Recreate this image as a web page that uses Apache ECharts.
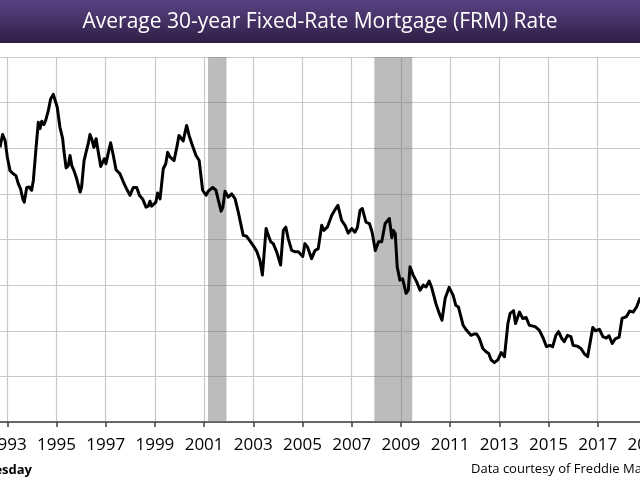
<!DOCTYPE html>
<html>
<head>
<meta charset="utf-8">
<script src="https://cdn.jsdelivr.net/npm/echarts@6/dist/echarts.min.js"></script>
<style>html,body{margin:0;padding:0;background:#fff}#c{width:640px;height:480px}</style>
</head>
<body>
<div id="c"></div>
<script>
var titleText = 'Average 30-year Fixed-Rate Mortgage (FRM) Rate';
var yearTicks = [1991,1993,1995,1997,1999,2001,2003,2005,2007,2009,2011,2013,2015,2017,2019,2021];
var recessions = [[2001.16, 2001.91], [2007.92, 2009.46]];
var years = [
1992.70,1992.81,1992.91,1993.00,1993.11,1993.24,1993.35,1993.45,1993.54,1993.63,1993.69,1993.79,1993.89,1993.99,
1994.06,1994.17,1994.26,1994.33,1994.40,1994.49,1994.56,1994.67,1994.76,1994.87,1994.95,
1995.03,1995.14,1995.25,1995.30,1995.39,1995.48,1995.55,1995.62,1995.71,1995.82,1995.96,
1996.02,1996.12,1996.20,1996.29,1996.36,1996.44,1996.52,1996.61,1996.70,1996.80,1996.88,1996.94,
1997.01,1997.11,1997.20,1997.31,1997.42,1997.58,1997.72,1997.85,1997.99,
1998.12,1998.26,1998.37,1998.50,1998.64,1998.73,1998.80,1998.87,
1999.04,1999.11,1999.21,1999.34,1999.44,1999.52,1999.61,1999.68,1999.78,1999.89,1999.98,
2000.06,2000.15,2000.29,2000.39,2000.50,2000.67,2000.80,2000.94,
2001.08,2001.17,2001.35,2001.48,2001.58,2001.69,2001.76,2001.85,2001.98,
2002.12,2002.26,2002.39,2002.59,2002.73,2002.89,
2003.03,2003.14,2003.20,2003.27,2003.37,2003.52,2003.61,2003.71,2003.81,2003.95,
2004.11,2004.22,2004.32,2004.42,2004.56,2004.70,2004.83,
2005.01,2005.10,2005.20,2005.37,2005.51,2005.64,2005.78,2005.87,
2006.01,2006.19,2006.32,2006.44,2006.59,2006.73,2006.86,
2007.00,2007.13,2007.23,2007.34,2007.43,2007.58,2007.72,2007.83,2007.96,
2008.09,2008.22,2008.36,2008.53,2008.63,2008.69,2008.77,2008.85,2008.96,
2009.07,2009.21,2009.30,2009.37,2009.50,2009.64,2009.78,2009.91,
2010.02,2010.15,2010.26,2010.42,2010.56,2010.67,2010.80,2010.96,
2011.12,2011.23,2011.34,2011.53,2011.67,2011.85,2011.99,
2012.08,2012.19,2012.33,2012.46,2012.57,2012.67,2012.80,2012.94,
2013.08,2013.21,2013.35,2013.44,2013.58,2013.66,2013.82,2013.95,
2014.09,2014.22,2014.46,2014.63,2014.79,2014.92,
2015.06,2015.17,2015.30,2015.41,2015.54,2015.64,2015.77,2015.91,
2016.00,2016.18,2016.32,2016.45,2016.59,2016.66,2016.80,2016.91,
2017.07,2017.21,2017.35,2017.46,2017.59,2017.71,2017.87,2017.99,
2018.17,2018.30,2018.44,2018.58,2018.73
];
var rates = [
8.02,8.30,8.17,7.81,7.51,7.44,7.40,7.22,7.11,6.89,6.82,7.14,7.15,7.08,
7.30,8.02,8.57,8.43,8.59,8.52,8.61,8.83,9.08,9.18,9.16,
8.90,8.46,8.21,7.95,7.57,7.62,7.84,7.62,7.51,7.33,7.04,
7.15,7.73,7.91,8.10,8.30,8.19,8.02,8.21,7.91,7.60,7.59,7.77,
7.66,7.91,8.12,7.84,7.53,7.44,7.26,7.11,6.97,
7.14,7.14,6.97,6.89,6.71,6.73,6.84,6.73,
6.82,7.02,6.89,7.55,7.66,7.91,7.81,7.84,7.73,8.02,8.28,
8.32,8.16,8.50,8.28,8.10,7.84,7.73,7.08,
6.97,7.06,7.14,7.08,6.86,6.62,6.70,7.06,6.93,
7.00,6.89,6.60,6.09,6.07,5.95,
5.84,5.74,5.76,5.54,5.22,6.24,6.09,5.95,5.91,5.73,
5.44,6.20,6.27,6.02,5.76,5.73,5.73,
5.63,5.91,5.84,5.58,5.76,5.80,6.31,6.20,
6.27,6.53,6.65,6.75,6.42,6.31,6.14,
6.24,6.16,6.26,6.64,6.68,6.38,6.35,6.16,5.76,
5.95,5.95,6.35,6.46,6.04,6.20,6.13,5.40,5.11,
5.14,4.82,4.89,5.40,5.22,5.07,4.89,5.00,
4.96,5.09,4.93,4.60,4.38,4.23,4.71,4.95,
4.78,4.56,4.52,4.12,4.01,3.90,3.93,
3.93,3.83,3.61,3.54,3.50,3.36,3.30,3.36,
3.52,3.43,4.16,4.38,4.44,4.16,4.41,4.27,
4.29,4.12,4.09,4.01,3.83,3.65,
3.68,3.65,3.90,3.98,3.83,3.76,3.90,3.87,
3.68,3.66,3.61,3.50,3.43,3.42,4.07,4.00,
4.03,3.87,3.84,3.89,3.72,3.82,3.86,4.27,
4.31,4.43,4.41,4.52,4.73
];
var noteLeft = 'Wednesday';
var noteRight = 'Data courtesy of Freddie Mac';

var data = years.map(function (y, i) { return [y, rates[i]]; });
var chart = echarts.init(document.getElementById('c'));
var FONT = '"Open Sans", sans-serif';
chart.setOption({
  animation: false,
  backgroundColor: '#ffffff',
  grid: { left: -41.9, right: -56.1, top: 57, bottom: 58, containLabel: false, outerBoundsMode: 'none' },
  xAxis: {
    type: 'value', min: yearTicks[0], max: yearTicks[yearTicks.length - 1], interval: 2,
    axisLine: { show: true, onZero: false, lineStyle: { color: '#404040', width: 1.5 } },
    axisTick: { show: true, length: 5, lineStyle: { color: '#404040', width: 1.5 } },
    axisLabel: { color: '#000', fontFamily: FONT, fontSize: 17, margin: 15, hideOverlap: false, formatter: function (v) { return String(v); } },
    splitLine: { show: true, lineStyle: { color: '#c8c8c8', width: 1.2 } }
  },
  yAxis: {
    type: 'value', min: 2, max: 10, interval: 1,
    axisLine: { show: false }, axisTick: { show: false }, axisLabel: { show: false },
    splitLine: { show: true, lineStyle: { color: '#c8c8c8', width: 1.2 } }
  },
  series: [{
    type: 'line', data: data, showSymbol: false, symbol: 'none',
    lineStyle: { color: '#000', width: 3, join: 'round' },
    markArea: {
      silent: true,
      itemStyle: { color: 'rgba(115,115,115,0.48)' },
      data: recessions.map(function (r) { return [{ xAxis: r[0] }, { xAxis: r[1] }]; })
    },
    z: 3
  }],
  graphic: [
    { type: 'rect', shape: { x: 0, y: 0, width: 640, height: 43 }, z: 10,
      style: { fill: new echarts.graphic.LinearGradient(0, 0, 0, 1, [
        { offset: 0, color: '#5a4282' }, { offset: 1, color: '#2f1e45' }]) } },
    { type: 'text', x: 320, y: 22, z: 11,
      style: { text: titleText, fill: '#ffffff', font: '21px ' + FONT, textAlign: 'center', textVerticalAlign: 'middle' } },
    { type: 'text', x: 32, y: 470, z: 11,
      style: { text: noteLeft, fill: '#000', font: 'bold 13px ' + FONT, textAlign: 'right', textVerticalAlign: 'middle' } },
    { type: 'text', x: 471, y: 469, z: 11,
      style: { text: noteRight, fill: '#000', font: '13px ' + FONT, textAlign: 'left', textVerticalAlign: 'middle' } }
  ]
});
</script>
</body>
</html>
